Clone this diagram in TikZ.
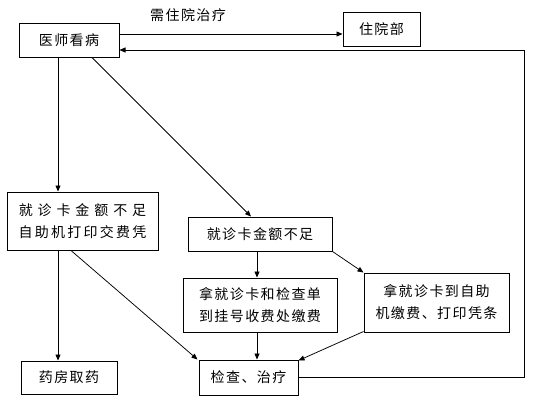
\documentclass[tikz,border=0pt]{standalone}
\usepackage{fontspec}
\newfontfamily\cjk{Noto Sans CJK SC}[LetterSpace=10]
\newfontfamily\cjkwide{Noto Sans CJK SC}[LetterSpace=35]
\newfontfamily\cjkmid{Noto Sans CJK SC}[LetterSpace=16]
\usetikzlibrary{arrows.meta}

\begin{document}
\begin{tikzpicture}[
    x=1pt, y=-1pt,
    >={Triangle[length=6pt, width=5pt]},
    box/.style={draw, line width=1pt, inner sep=0pt, align=center,
                font=\cjk\fontsize{14}{22}\selectfont},
    lab/.style={inner sep=0pt, font=\cjk\fontsize{14}{22}\selectfont},
    arr/.style={->, line width=0.75pt},
  ]
  \useasboundingbox (0,0) rectangle (536,405);

  % --- boxes ---
  \node[box, minimum width=100pt, minimum height=34pt] (doc) at (69,40) {医师看病};
  \node[box, minimum width=77pt,  minimum height=34pt] (ward) at (381.5,29) {住院部};
  \node[lab] (need) at (188,15) {需住院治疗};

  \node[box, minimum width=151pt, minimum height=58pt] (short) at (82.5,221)
    {{\cjkwide 就诊卡金额不足}\\{\cjkmid 自助机打印交费凭}};
  \node[box, minimum width=144pt, minimum height=34pt] (card) at (260,234) {就诊卡金额不足};
  \node[box, minimum width=154pt, minimum height=54pt] (desk) at (260,305)
    {拿就诊卡和检查单\\到挂号收费处缴费};
  \node[box, minimum width=145pt, minimum height=59pt] (self) at (436.5,302.5)
    {拿就诊卡到自助\\机缴费、打印凭条};
  \node[box, minimum width=96pt,  minimum height=33pt] (drug) at (69,377.5) {药房取药};
  \node[box, minimum width=99pt,  minimum height=35pt] (exam) at (248.5,377.5) {检查、治疗};

  % --- corner points of the return line ---
  \coordinate (rt) at (524,50);
  \coordinate (rb) at (524,378);

  % --- connectors ---
  \draw[arr] ([yshift=6pt]doc.east) -- ([yshift=6pt]doc.east -| ward.west);
  \draw[arr] (exam.east) -- (exam.east -| rb) -- (rt) -- ([yshift=-10pt]doc.east);

  \draw[arr] ([xshift=-11pt]doc.south) -- ([xshift=-11pt]doc.south |- short.north);
  \draw[arr] ([xshift=23pt]doc.south) -- ([xshift=-9pt]card.north);

  \draw[arr] ([xshift=-24.5pt]short.south) -- ([xshift=-24.5pt]short.south |- drug.north);
  \draw[arr] ([xshift=-11.5pt]short.south) -- ([xshift=-1pt]exam.north west);

  \draw[arr] ([xshift=-3pt]card.south) -- ([xshift=-3pt]card.south |- desk.north);
  \draw[arr] (card.south east) -- (self.north west);

  \draw[arr] ([xshift=-3pt]desk.south) -- ([xshift=-3pt]desk.south |- exam.north);
  \draw[arr] ([yshift=1pt]self.south west) -- ([yshift=-1pt]exam.north east);
\end{tikzpicture}
\end{document}
